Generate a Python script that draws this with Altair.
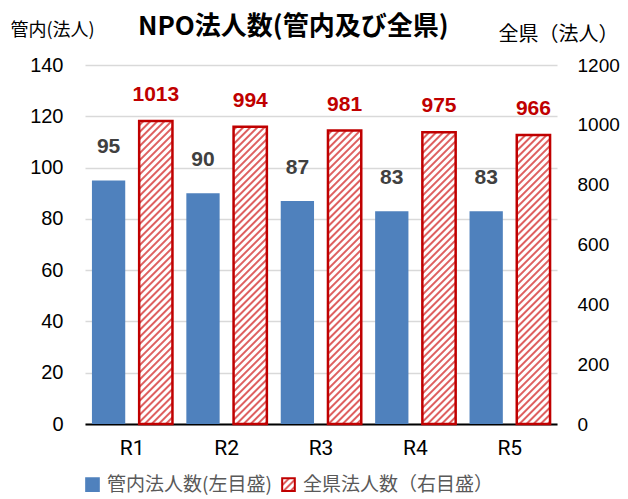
import altair as alt
import pandas as pd

# ---------------- data ----------------
years = ["R1", "R2", "R3", "R4", "R5"]
kannai = [95, 90, 87, 83, 83]          # left axis (管内)
zenken = [1013, 994, 981, 975, 966]    # right axis (全県)
series_names = ["管内法人数(左目盛)", "全県法人数（右目盛）"]
left_ticks = [0, 20, 40, 60, 80, 100, 120, 140]
right_ticks = [0, 200, 400, 600, 800, 1000, 1200]

# ---------------- hatch pattern for SVG (style only) ----------------
HATCH_DEFS = (
    '<svg width="0" height="0" style="position:absolute;left:0;top:0" aria-hidden="true">'
    '<defs><pattern id="hatch" patternUnits="userSpaceOnUse" width="5" height="5" '
    'patternTransform="rotate(45)">'
    '<rect width="5" height="5" fill="#ffffff"/>'
    '<line x1="1" y1="0" x2="1" y2="5" stroke="#d42a2a" stroke-width="1.5"/>'
    '</pattern></defs></svg>'
)
try:
    import altair.utils.html as _ah
    _std = _ah.TEMPLATES["standard"]

    class _HatchTemplate:
        def render(self, *args, **kwargs):
            html = _std.render(*args, **kwargs)
            if "<body>" in html:
                return html.replace("<body>", "<body>\n" + HATCH_DEFS, 1)
            return HATCH_DEFS + html

    _ah.TEMPLATES["standard"] = _HatchTemplate()
except Exception:
    pass

df_a = pd.DataFrame({"year": years, "value": kannai, "series": series_names[0]})
df_b = pd.DataFrame({"year": years, "value": zenken, "series": series_names[1]})

CJK = "Noto Sans CJK JP"
LAT = "Liberation Sans"

x_axis = alt.X(
    "year:N", sort=years,
    scale=alt.Scale(paddingInner=0, paddingOuter=0),
    axis=alt.Axis(title=None, labelAngle=0, labelFont="Roboto",
                  labelFontSize=21, labelColor="#000000", labelPadding=13,
                  domainColor="#000000", domainWidth=2, ticks=False, grid=False),
)
x_plain = alt.X("year:N", sort=years)
xo = alt.XOffset("series:N",
                 scale=alt.Scale(domain=series_names, paddingInner=0.295, paddingOuter=0.147))

legend = alt.Legend(title=None, orient="none", legendX=-2, legendY=410,
                    direction="horizontal", symbolType="square", symbolSize=160,
                    symbolStrokeWidth=2, labelFont=CJK, labelFontSize=19,
                    labelColor="#595959", labelOffset=5, columnPadding=6,
                    labelLimit=300)
color = alt.Color("series:N",
                  scale=alt.Scale(domain=series_names, range=["#4f81bd", "url(#hatch)"]),
                  legend=legend)
stroke = alt.Stroke("series:N",
                    scale=alt.Scale(domain=series_names, range=["#4f81bd", "#c00000"]),
                    legend=legend)

y_left = alt.Y(
    "value:Q",
    scale=alt.Scale(domain=[0, 140], nice=False),
    axis=alt.Axis(values=left_ticks, title="管内(法人)", titleAngle=0, titleX=-75, titleY=-35,
                  titleAlign="left", titleBaseline="middle", titleFont=CJK, titleFontSize=18,
                  titleFontWeight="normal", titleColor="#000000",
                  labelFont=LAT, labelFontSize=20, labelColor="#000000", labelPadding=22,
                  ticks=False, domain=False, grid=True, gridColor="#d9d9d9", gridWidth=1.5),
)
y_right = alt.Y(
    "value:Q",
    scale=alt.Scale(domain=[0, 1200], nice=False),
    axis=alt.Axis(orient="right", values=right_ticks, format="d", title="全県（法人）",
                  titleAngle=0, titleX=-59, titleY=-31, titleAlign="left",
                  titleBaseline="middle", titleFont=CJK, titleFontSize=20,
                  titleFontWeight="normal", titleColor="#000000", labelFont=LAT,
                  labelFontSize=19, labelColor="#000000", labelPadding=20, ticks=False,
                  domain=False, grid=False),
)
y_plain = alt.Y("value:Q")

bar_a = alt.Chart(df_a).mark_bar(strokeWidth=0).encode(
    x=x_axis, xOffset=xo, y=y_left, color=color, stroke=stroke)
text_a = alt.Chart(df_a).mark_text(
    dy=-33, baseline="middle", fontSize=21, fontWeight="bold", font=LAT, color="#404040"
).encode(x=x_plain, xOffset=xo, y=y_plain, text=alt.Text("value:Q"))

bar_b = alt.Chart(df_b).mark_bar(strokeWidth=2.5).encode(
    x=x_plain, xOffset=xo, y=y_right, color=color, stroke=stroke)
text_b = alt.Chart(df_b).mark_text(
    dy=-26, baseline="middle", fontSize=21, fontWeight="bold", font=LAT, color="#c00000"
).encode(x=x_plain, xOffset=xo, y=y_plain, text=alt.Text("value:Q"))

chart = (
    alt.layer(alt.layer(bar_a, text_a), alt.layer(bar_b, text_b))
    .resolve_scale(y="independent")
    .properties(
        width=472, height=359,
        padding={"left": 77, "top": 57, "right": 63, "bottom": 75},
        autosize=alt.AutoSizeParams(type="none"),
        title=alt.TitleParams("NPO法人数(管内及び全県)", font=CJK, fontSize=26,
                              fontWeight="bold", color="#000000", anchor="start",
                              frame="group", dx=53, offset=-19),
    )
    .configure_view(stroke=None)
)

chart.save("out.html", embed_options={"renderer": "svg", "actions": False})
